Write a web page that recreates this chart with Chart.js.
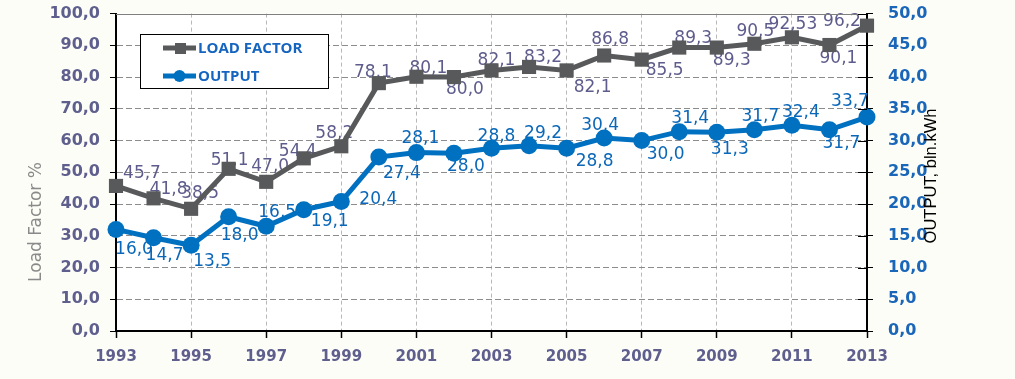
<!DOCTYPE html>
<html><head><meta charset="utf-8">
<script src="https://cdn.jsdelivr.net/npm/chart.js@4.4.1/dist/chart.umd.min.js"></script>
<style>html,body{margin:0;padding:0;background:#fdfdf8;overflow:hidden;width:1015px;height:379px;}canvas{display:block;}</style>
</head><body>
<canvas id="c" width="1015" height="379"></canvas>
<script>
// ---- data ----
const years = [1993,1994,1995,1996,1997,1998,1999,2000,2001,2002,2003,2004,2005,2006,2007,2008,2009,2010,2011,2012,2013];
const loadFactor = [45.7,41.8,38.5,51.1,47.0,54.4,58.2,78.1,80.1,80.0,82.1,83.2,82.1,86.8,85.5,89.3,89.3,90.5,92.53,90.1,96.2];
const output = [16.0,14.7,13.5,18.0,16.5,19.1,20.4,27.4,28.1,28.0,28.8,29.2,28.8,30.4,30.0,31.4,31.3,31.7,32.4,31.7,33.7];
const xTickYears = [1993,1995,1997,1999,2001,2003,2005,2007,2009,2011,2013];
const leftTicks = [0,10,20,30,40,50,60,70,80,90,100];
const rightTicks = [0,5,10,15,20,25,30,35,40,45,50];
const seriesNames = ['LOAD FACTOR','OUTPUT'];
const leftTitle = 'Load Factor %';
const rightTitle = 'OUTPUT, bln.kWh';

// label placement (pixel offsets from each point), kept separate from data
const lfLabelOffsets = [[26,-12],[15,-9],[9,-15],[1,-8],[4,-15],[-6,-7],[-7,-13],[-6,-11],[12,-8],[11,12],[5,-10],[14,-9],[26,17],[6,-16],[23,11],[14,-9],[15,13],[1,-12],[1,-13],[9,14],[-25,-4]];
const outLabelOffsets = [[18,20],[11,18],[21,16],[11,19],[11,-14],[26,12],[37,-2],[23,17],[4,-14],[12,13],[5,-12],[14,-12],[28,13],[-4,-12],[24,14],[11,-13],[13,17],[6,-13],[9,-13],[12,14],[-17,-15]];

const LF_COLOR = '#58595b', OUT_COLOR = '#0070c0';
const TICK_COLOR = '#5f5f8e', LF_LABEL = '#5e5c8c', OUT_LABEL = '#0b68b8';
const FONT = '"DejaVu Sans", sans-serif';
const AREA = {left: 116, top: 14, right: 867, bottom: 331};
let SHIFT = 0;

const fmt1 = v => v.toFixed(1).replace('.', ',');
const fmtLabel = v => { const s = v.toFixed(2); return (s.endsWith('0') ? v.toFixed(1) : s).replace('.', ','); };

const bgPlugin = {
  id: 'bg',
  beforeDraw(chart) {
    const {ctx, chartArea: a} = chart;
    ctx.save();
    ctx.fillStyle = '#fdfdf8';
    ctx.fillRect(0, 0, chart.width, chart.height);
    ctx.fillStyle = '#ffffff';
    ctx.fillRect(a.left, a.top, a.right - a.left, a.bottom - a.top);
    ctx.restore();
  }
};

const labelPlugin = {
  id: 'pointLabels',
  beforeDatasetsDraw(chart) {
    const ctx = chart.ctx;
    ctx.save();
    ctx.font = '17px "DejaVu Sans", sans-serif';
    ctx.textAlign = 'center';
    ctx.textBaseline = 'middle';
    chart.data.datasets.forEach((ds, di) => {
      const meta = chart.getDatasetMeta(di);
      const offs = di === 0 ? lfLabelOffsets : outLabelOffsets;
      ctx.fillStyle = di === 0 ? LF_LABEL : OUT_LABEL;
      meta.data.forEach((pt, i) => {
        ctx.fillText(fmtLabel(ds.data[i].y), pt.x + offs[i][0], pt.y + offs[i][1]);
      });
    });
    ctx.restore();
  }
};

const decorPlugin = {
  id: 'decor',
  afterDraw(chart) {
    const {ctx, chartArea: a} = chart;
    ctx.save();
    // top frame line
    ctx.strokeStyle = '#7f7f7f'; ctx.lineWidth = 1;
    ctx.beginPath(); ctx.moveTo(a.left, Math.round(a.top) + 0.5); ctx.lineTo(a.right, Math.round(a.top) + 0.5); ctx.stroke();
    // inner part of right-axis ticks
    const y1 = chart.scales.y1;
    ctx.strokeStyle = '#000';
    y1.ticks.forEach(t => {
      const py = Math.round(y1.getPixelForValue(t.value)) + 0.5;
      ctx.beginPath(); ctx.moveTo(a.right - 9, py); ctx.lineTo(a.right, py); ctx.stroke();
    });
    // axis titles
    ctx.font = '17px "DejaVu Sans", sans-serif';
    ctx.fillStyle = '#8a8a8a';
    ctx.textAlign = 'center'; ctx.textBaseline = 'middle';
    ctx.translate(37, 222 + SHIFT); ctx.rotate(-Math.PI / 2);
    ctx.fillText(leftTitle, 0, 0);
    ctx.setTransform(1, 0, 0, 1, 0, 0);
    ctx.font = '16.5px "Liberation Sans", Arial, sans-serif';
    ctx.fillStyle = '#000';
    ctx.translate(931, 176 + SHIFT); ctx.rotate(-Math.PI / 2);
    ctx.fillText(rightTitle, 0, 0);
    ctx.setTransform(1, 0, 0, 1, 0, 0);
    // legend
    const ly = 34.5 + SHIFT;
    ctx.fillStyle = '#ffffff';
    ctx.fillRect(140.5, ly, 188, 54);
    ctx.strokeStyle = '#000'; ctx.lineWidth = 1;
    ctx.strokeRect(140.5, ly, 188, 54);
    const rows = [48 + SHIFT, 76 + SHIFT];
    chart.data.datasets.forEach((ds, di) => {
      const y = rows[di];
      ctx.strokeStyle = ds.borderColor; ctx.lineWidth = 5;
      ctx.beginPath(); ctx.moveTo(163, y); ctx.lineTo(196, y); ctx.stroke();
      ctx.fillStyle = ds.borderColor;
      if (di === 0) { ctx.fillRect(175, y - 5, 11, 11); }
      else { ctx.beginPath(); ctx.arc(179.5, y, 6, 0, Math.PI * 2); ctx.fill(); }
      ctx.fillStyle = '#1565c0';
      ctx.font = 'bold 15px "Open Sans", sans-serif';
      ctx.textAlign = 'left'; ctx.textBaseline = 'middle';
      ctx.fillText(ds.label, 198, y + 0.5);
    });
    ctx.restore();
  }
};

function makeConfig(padTop) {
  return {
    type: 'line',
    data: {
      datasets: [
        { label: seriesNames[0], data: years.map((y, i) => ({x: y, y: loadFactor[i]})), yAxisID: 'y',
          borderColor: LF_COLOR, backgroundColor: LF_COLOR, borderWidth: 5, pointStyle: 'rect',
          pointRadius: 10, pointBorderWidth: 0, pointBackgroundColor: LF_COLOR, tension: 0, clip: false },
        { label: seriesNames[1], data: years.map((y, i) => ({x: y, y: output[i]})), yAxisID: 'y1',
          borderColor: OUT_COLOR, backgroundColor: OUT_COLOR, borderWidth: 5, pointStyle: 'circle',
          pointRadius: 8.5, pointBorderWidth: 0, pointBackgroundColor: OUT_COLOR, tension: 0, clip: false }
      ]
    },
    options: {
      responsive: false, maintainAspectRatio: false, animation: false,
      layout: {padding: {top: padTop, left: 0, right: 0, bottom: 0}},
      plugins: {legend: {display: false}, tooltip: {enabled: false}},
      scales: {
        x: {
          type: 'linear', min: 1993, max: 2013,
          afterBuildTicks: s => { s.ticks = xTickYears.map(v => ({value: v})); },
          afterFit: s => { s.height = 379 - AREA.bottom; },
          ticks: {callback: v => String(v), color: TICK_COLOR, font: {family: FONT, weight: 'bold', size: 15}, padding: 10, maxRotation: 0, autoSkip: false},
          grid: {color: '#b8b8b8', lineWidth: 1, tickColor: '#000', tickLength: 7, tickWidth: 1.5, tickBorderDash: []},
          border: {color: '#000', width: 2, dash: [4, 3]}
        },
        y: {
          position: 'left', min: 0, max: 100,
          afterBuildTicks: s => { s.ticks = leftTicks.map(v => ({value: v})); },
          afterFit: s => { s.width = AREA.left; },
          ticks: {callback: v => fmt1(v), color: TICK_COLOR, font: {family: FONT, weight: 'bold', size: 16}, padding: 10},
          grid: {color: ctx => (ctx.tick && ctx.tick.value === 100) ? 'rgba(0,0,0,0)' : '#8c8c8c', lineWidth: 1, tickColor: '#000', tickLength: 6, tickWidth: 1, tickBorderDash: []},
          border: {color: '#000', width: 2, dash: [6, 3]}
        },
        y1: {
          position: 'right', min: 0, max: 50,
          afterBuildTicks: s => { s.ticks = rightTicks.map(v => ({value: v})); },
          afterFit: s => { s.width = 1015 - AREA.right; },
          ticks: {callback: v => fmt1(v), color: '#1a66b8', font: {family: FONT, weight: 'bold', size: 16}, padding: 15},
          grid: {drawOnChartArea: false, tickColor: '#000', tickLength: 6, tickWidth: 1},
          border: {color: '#000', width: 2}
        }
      }
    },
    plugins: [bgPlugin, labelPlugin, decorPlugin]
  };
}

const canvas = document.getElementById('c');
function build(extra, padTop) {
  SHIFT = extra;
  canvas.width = 1015; canvas.height = 379 + extra;
  canvas.style.width = '1015px'; canvas.style.height = (379 + extra) + 'px';
  canvas.style.marginTop = (-extra) + 'px';
  return new Chart(canvas, makeConfig(padTop));
}
let chart = build(0, AREA.top);
// the library adds room above the plot for the top tick label; compensate so the
// plot area lands where the reference has it (top 14, bottom 331)
const D = Math.round(chart.scales.y.top - AREA.top);
if (D > 0) { chart.destroy(); chart = build(D, AREA.top); }
else if (D < 0) { chart.destroy(); chart = build(0, AREA.top - D); }
</script>
</body></html>
